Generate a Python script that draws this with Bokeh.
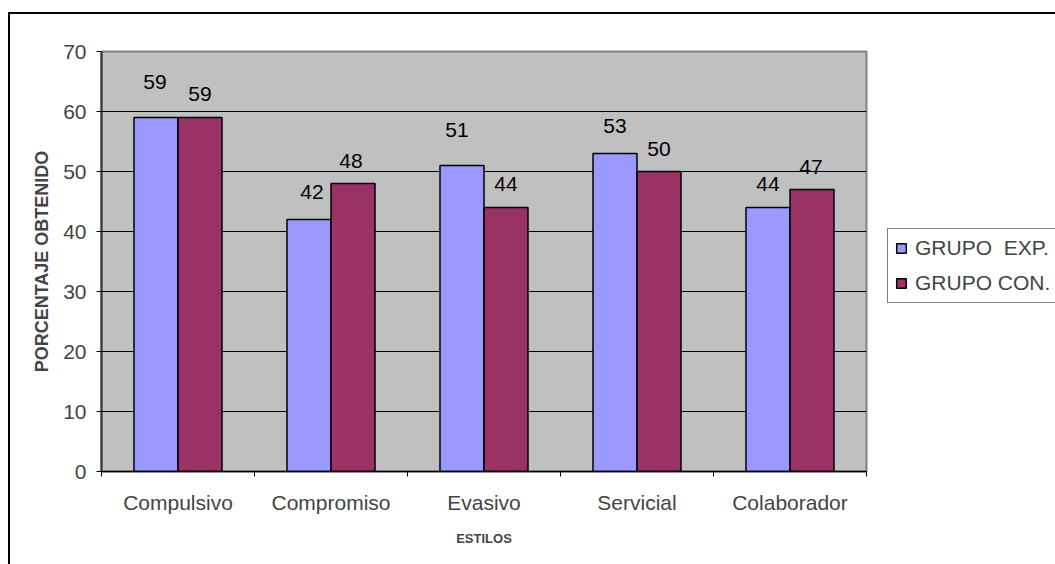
from bokeh.plotting import figure
from bokeh.models import (ColumnDataSource, FixedTicker, LabelSet, Legend, LegendItem, Range1d)
from bokeh.layouts import column
from bokeh.core.properties import value
from bokeh.embed import file_html
from bokeh.resources import INLINE
import numpy as np

# ---- data ----
categories = ["Compulsivo", "Compromiso", "Evasivo", "Servicial", "Colaborador"]
grupo_exp = [59, 42, 51, 53, 44]
grupo_con = [59, 48, 44, 50, 47]
series_names = ["GRUPO  EXP.", "GRUPO CON."]
y_ticks = list(range(0, 80, 10))

# ---- styles ----
BLUE = "#9999FF"
RED = "#993366"
BG = "#C0C0C0"
bar_w = 0.2876
exp_label_dy = [36, 28, 36, 28, 24]
con_label_dy = [24, 23, 24, 23, 23]
exp_label_dx = [-1, 3, -5, 0, 0]
con_label_dx = [0, -2, 0, 0, -1]
FONT = "Liberation Sans"

n = len(categories)
centers = np.arange(n) + 0.5

p = figure(frame_width=765, frame_height=420, output_backend="svg", toolbar_location=None,
           x_range=Range1d(0, n), y_range=Range1d(0, 70),
           min_border_left=91, min_border_right=0, min_border_top=37,
           min_border_bottom=93)
p.background_fill_color = BG
p.border_fill_color = "white"
p.outline_line_color = "#808080"
p.outline_line_width = 2

src_exp = ColumnDataSource(dict(x=centers - bar_w / 2, y=grupo_exp,
                                txt=[str(v) for v in grupo_exp],
                                dy=exp_label_dy, dx=exp_label_dx))
src_con = ColumnDataSource(dict(x=centers + bar_w / 2, y=grupo_con,
                                txt=[str(v) for v in grupo_con],
                                dy=con_label_dy, dx=con_label_dx))

r1 = p.vbar(x="x", top="y", width=bar_w, bottom=0, source=src_exp,
            fill_color=BLUE, line_color="black", line_width=1.5)
r2 = p.vbar(x="x", top="y", width=bar_w, bottom=0, source=src_con,
            fill_color=RED, line_color="black", line_width=1.5)

for s in (src_exp, src_con):
    p.add_layout(LabelSet(x="x", y="y", text="txt", source=s,
                          x_offset="dx", y_offset="dy",
                          text_align="center", text_baseline="middle",
                          text_font=value(FONT), text_font_size="21px",
                          text_color="black"))

# grid
p.xgrid.visible = False
p.ygrid.ticker = FixedTicker(ticks=y_ticks[1:-1])
p.ygrid.grid_line_color = "black"
p.ygrid.grid_line_width = 1
p.ygrid.level = "image"

# y axis
p.yaxis.ticker = FixedTicker(ticks=y_ticks)
p.yaxis.axis_label = "PORCENTAJE OBTENIDO"
p.yaxis.axis_label_text_font = FONT
p.yaxis.axis_label_text_font_style = "bold"
p.yaxis.axis_label_text_font_size = "18px"
p.yaxis.axis_label_standoff = 8
p.yaxis.major_label_text_font = FONT
p.yaxis.major_label_text_font_size = "21px"
p.yaxis.major_label_standoff = 10
p.yaxis.major_tick_out = 5
p.yaxis.major_tick_in = 0
p.yaxis.minor_tick_line_color = None
p.yaxis.axis_line_color = "#333333"
p.yaxis.axis_line_width = 2
p.yaxis.major_tick_line_color = "black"

# x axis: labels at centers, ticks at boundaries (minor ticks)
p.xaxis.ticker = FixedTicker(ticks=list(centers), minor_ticks=list(range(n + 1)))
p.xaxis.major_label_overrides = {float(c): cat for c, cat in zip(centers, categories)}
p.xaxis.major_tick_line_color = None
p.xaxis.major_tick_out = 5
p.xaxis.major_tick_in = 0
p.xaxis.minor_tick_out = 5
p.xaxis.minor_tick_in = 0
p.xaxis.minor_tick_line_color = "black"
p.xaxis.major_label_text_font = FONT
p.xaxis.major_label_text_font_size = "21px"
p.xaxis.major_label_standoff = 14
p.xaxis.axis_label = "ESTILOS"
p.xaxis.axis_label_text_font = FONT
p.xaxis.axis_label_text_font_style = "bold"
p.xaxis.axis_label_text_font_size = "13px"
p.xaxis.axis_label_standoff = 14
p.xaxis.axis_line_color = "black"
p.xaxis.axis_line_width = 1.5

# legend (in the right side panel, so it is not clipped by the plot frame)
legend = Legend(items=[LegendItem(label=series_names[0], renderers=[r1]),
                       LegendItem(label=series_names[1], renderers=[r2])],
                location=(21, 168), orientation="vertical",
                label_text_font=FONT, label_text_font_size="21px",
                glyph_width=12, glyph_height=12, label_standoff=8,
                padding=7, spacing=11, margin=0,
                border_line_color="black", border_line_width=1,
                background_fill_color="white", background_fill_alpha=1)
p.add_layout(legend, "right")

# outer chart border (left and top edges visible; right/bottom lie off-page)
layout = column(p, styles={"margin-left": "8px", "margin-top": "12px",
                           "border-left": "2px solid black",
                           "border-top": "2px solid black"})

open("out.html", "w").write(file_html(layout, INLINE))
